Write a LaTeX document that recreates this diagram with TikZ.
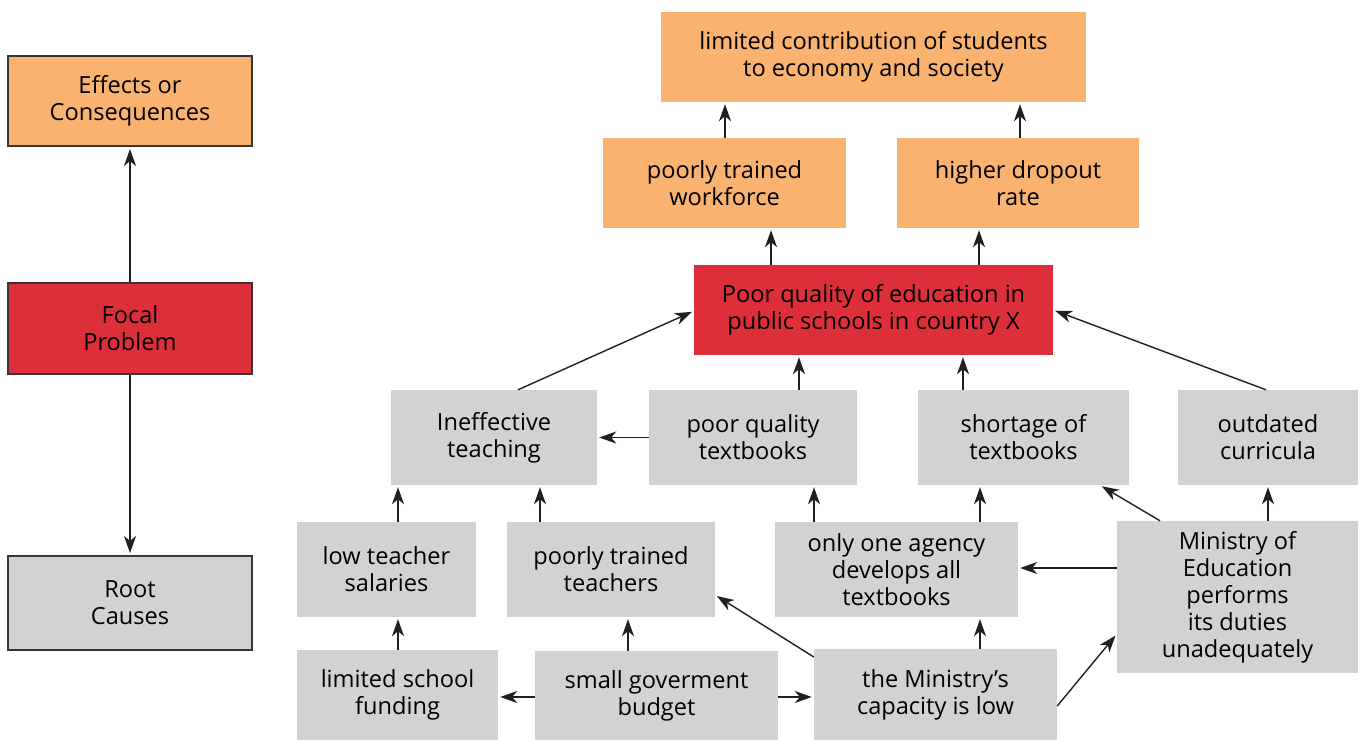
\documentclass[tikz,border=0pt]{standalone}
\usepackage{fontspec}
\setmainfont{Open Sans}
\usetikzlibrary{arrows.meta}
\definecolor{effc}{HTML}{F9B26F}
\definecolor{focc}{HTML}{DC2F39}
\definecolor{rootc}{HTML}{D1D2D4}
\definecolor{linec}{HTML}{231F20}
\begin{document}
\begin{tikzpicture}[x=1pt,y=-1pt,
  box/.style={rectangle,inner sep=0pt,align=center,font=\fontsize{23.6}{27}\selectfont,text=black},
  eff/.style={box,fill=effc},
  foc/.style={box,fill=focc},
  rootbox/.style={box,fill=rootc},
  legend/.style={draw=linec!90,line width=2pt},
  arr/.style={-{Stealth[length=17pt,width=12pt,inset=5pt]},line width=1.4pt,draw=linec,shorten >=2pt}]
\useasboundingbox (0,0) rectangle (1364,740);
% legend column
\node[eff,legend,minimum width=244,minimum height=90] (leff) at (130,101) {Effects or\\Consequences};
\node[foc,legend,minimum width=244,minimum height=91] (lfoc) at (130,328.5) {Focal\\Problem};
\node[rootbox,legend,minimum width=244,minimum height=94] (lroot) at (130,603) {Root\\Causes};
\draw[arr] (lfoc.north) -- (leff.south);
\draw[arr] (lfoc.south) -- (lroot.north);
% effects
\node[eff,minimum width=425,minimum height=90] (contrib) at (873.5,57) {limited contribution of students\\to economy and society};
\node[eff,minimum width=243,minimum height=90] (work) at (724.5,183) {poorly trained\\workforce};
\node[eff,minimum width=242,minimum height=90] (drop) at (1018,183) {higher dropout\\rate};
% focal
\node[foc,minimum width=359,minimum height=90] (pq) at (873.5,310) {Poor quality of education in\\public schools in country X};
% causes
\node[rootbox,minimum width=206,minimum height=95] (inef) at (494,437.5) {Ineffective\\teaching};
\node[rootbox,minimum width=208,minimum height=95] (pqt) at (753,437.5) {poor quality\\textbooks};
\node[rootbox,minimum width=211,minimum height=95] (short) at (1023.5,437.5) {shortage of\\textbooks};
\node[rootbox,minimum width=180,minimum height=95] (outd) at (1268,437.5) {outdated\\curricula};
\node[rootbox,minimum width=179,minimum height=95] (low) at (386.5,569.5) {low teacher\\salaries};
\node[rootbox,minimum width=208,minimum height=95] (ptt) at (611,569.5) {poorly trained\\teachers};
\node[rootbox,minimum width=243,minimum height=95] (one) at (896.5,569.5) {only one agency\\develops all\\textbooks};
\node[rootbox,minimum width=241,minimum height=152] (moe) at (1237.5,597) {Ministry of\\Education\\performs\\its duties\\unadequately};
\node[rootbox,minimum width=201,minimum height=90] (lsf) at (397.5,695) {limited school\\funding};
\node[rootbox,minimum width=243,minimum height=89] (sgb) at (656.5,695.5) {small goverment\\budget};
\node[rootbox,minimum width=243,minimum height=91] (cap) at (935.5,694.5) {the Ministry’s\\capacity is low};
% arrows effects
\draw[arr] (725,0 |- work.north) -- (725,0 |- contrib.south);
\draw[arr] (1020,0 |- drop.north) -- (1020,0 |- contrib.south);
\draw[arr] (771,0 |- pq.north) -- (771,0 |- work.south);
\draw[arr] (979,0 |- pq.north) -- (979,0 |- drop.south);
% arrows into focal
\draw[arr] (518,0 |- inef.north) -- ([yshift=-1pt]pq.west);
\draw[arr] (799,0 |- pqt.north) -- (799,0 |- pq.south);
\draw[arr] (963,0 |- short.north) -- (963,0 |- pq.south);
\draw[arr] (1266,0 |- outd.north) -- ([yshift=0pt]pq.east);
% middle
\draw[arr] (pqt.west) -- (inef.east);
\draw[arr] (398,0 |- low.north) -- (398,0 |- inef.south);
\draw[arr] (540,0 |- ptt.north) -- (540,0 |- inef.south);
\draw[arr] (814,0 |- one.north) -- (814,0 |- pqt.south);
\draw[arr] (980,0 |- one.north) -- (980,0 |- short.south);
\draw[arr] (1268,0 |- moe.north) -- (1268,0 |- outd.south);
\draw[arr] (1160,0 |- moe.north) -- (1100,0 |- short.south);
\draw[arr] (0,568 -| moe.west) -- (0,568 -| one.east);
% bottom
\draw[arr] (980,0 |- cap.north) -- (980,0 |- one.south);
\draw[arr] (0,706 -| cap.east) -- (0,634 -| moe.west);
\draw[arr] (0,657 -| cap.west) -- (0,595 -| ptt.east);
\draw[arr] (628,0 |- sgb.north) -- (628,0 |- ptt.south);
\draw[arr] (0,697 -| sgb.west) -- (0,697 -| lsf.east);
\draw[arr] (0,697 -| sgb.east) -- (0,697 -| cap.west);
\draw[arr] (398,0 |- lsf.north) -- (398,0 |- low.south);
\end{tikzpicture}
\end{document}
